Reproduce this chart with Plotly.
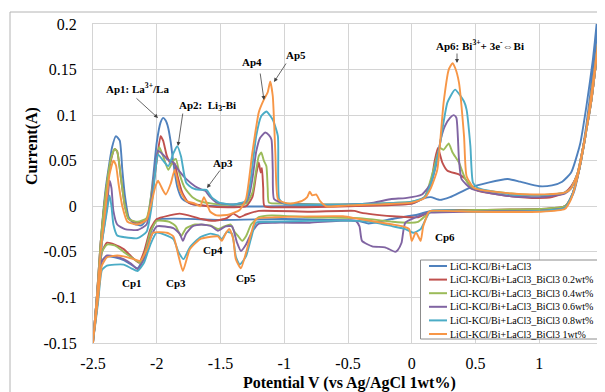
import plotly.graph_objects as go

# ---------------- data ----------------
series_names = [
    "LiCl-KCl/Bi+LaCl3",
    "LiCl-KCl/Bi+LaCl3_BiCl3 0.2wt%",
    "LiCl-KCl/Bi+LaCl3_BiCl3 0.4wt%",
    "LiCl-KCl/Bi+LaCl3_BiCl3 0.6wt%",
    "LiCl-KCl/Bi+LaCl3_BiCl3 0.8wt%",
    "LiCl-KCl/Bi+LaCl3_BiCl3 1wt%",
]
series_colors = ["#4F81BD", "#C0504D", "#9BBB59", "#8064A2", "#4BACC6", "#F79646"]

# (potential V, current A) pairs, anodic sweep then cathodic sweep
cv_base = [
    (-2.50, -0.150), (-2.47, -0.100), (-2.44, -0.040), (-2.40, 0.020), (-2.35, 0.065), (-2.32, 0.077),
    (-2.29, 0.072), (-2.27, 0.040), (-2.25, 0.012), (-2.22, -0.012), (-2.18, -0.019), (-2.12, -0.021),
    (-2.07, -0.012), (-2.03, 0.030), (-2.00, 0.070), (-1.97, 0.092), (-1.95, 0.097), (-1.93, 0.094),
    (-1.91, 0.086), (-1.89, 0.070), (-1.87, 0.048), (-1.84, 0.022), (-1.80, 0.008), (-1.72, 0.002),
    (-1.50, 0.000), (-1.00, 0.000), (-0.50, 0.001), (0.00, 0.003), (0.10, 0.009), (0.15, 0.010),
    (0.22, 0.007), (0.30, 0.010), (0.45, 0.020), (0.60, 0.026), (0.75, 0.030), (0.85, 0.027),
    (1.00, 0.022), (1.10, 0.023), (1.18, 0.027), (1.25, 0.037), (1.32, 0.068), (1.37, 0.110),
    (1.42, 0.160), (1.45, 0.200), (1.47, 0.235),
    (1.48, 0.235), (1.46, 0.200), (1.42, 0.145), (1.37, 0.090), (1.32, 0.045), (1.27, 0.015),
    (1.22, 0.002), (1.15, -0.002), (0.80, -0.004), (0.40, -0.004), (0.15, -0.005), (0.05, -0.009),
    (-0.16, -0.014), (-0.34, -0.019), (-0.42, -0.016), (-1.00, -0.014), (-1.50, -0.015), (-2.00, -0.015),
    (-2.05, -0.030), (-2.10, -0.055), (-2.15, -0.068), (-2.20, -0.064), (-2.26, -0.059), (-2.33, -0.056),
    (-2.39, -0.055), (-2.43, -0.060), (-2.46, -0.100), (-2.50, -0.150),
]

cv_02 = [
    (-2.50, -0.150), (-2.47, -0.100), (-2.44, -0.040), (-2.40, 0.015), (-2.36, 0.050), (-2.33, 0.063),
    (-2.31, 0.060), (-2.28, 0.030), (-2.25, 0.000), (-2.22, -0.014), (-2.15, -0.018), (-2.08, -0.015),
    (-2.04, 0.010), (-2.00, 0.050), (-1.97, 0.077), (-1.95, 0.072), (-1.92, 0.055), (-1.89, 0.047),
    (-1.86, 0.047), (-1.84, 0.035), (-1.80, 0.015), (-1.75, 0.004), (-1.60, 0.000), (-1.40, -0.001),
    (-1.30, 0.000), (-1.25, 0.010), (-1.22, 0.035), (-1.20, 0.048), (-1.185, 0.037), (-1.175, 0.042),
    (-1.165, 0.020), (-1.155, 0.000), (-1.00, -0.001), (-0.50, 0.000), (0.00, 0.003), (0.10, 0.010),
    (0.15, 0.025), (0.18, 0.050), (0.205, 0.064), (0.24, 0.048), (0.28, 0.039), (0.37, 0.035),
    (0.42, 0.030), (0.46, 0.022), (0.52, 0.017), (0.78, 0.011), (0.99, 0.009), (1.10, 0.010),
    (1.20, 0.015), (1.25, 0.022), (1.30, 0.035), (1.34, 0.062), (1.41, 0.117), (1.48, 0.200), (1.50, 0.235),
    (1.505, 0.235), (1.48, 0.200), (1.42, 0.135), (1.36, 0.075), (1.30, 0.032), (1.25, 0.010),
    (1.20, 0.000), (1.00, -0.003), (0.50, -0.004), (0.15, -0.006), (0.05, -0.012), (-0.02, -0.012),
    (-0.15, -0.011), (-0.40, -0.007), (-0.45, -0.005), (-0.80, -0.006), (-1.20, -0.005), (-1.30, -0.009),
    (-1.35, -0.012), (-1.40, -0.008), (-1.45, -0.013), (-1.55, -0.016), (-1.65, -0.014), (-1.75, -0.010),
    (-1.82, -0.008), (-1.90, -0.010), (-2.00, -0.014), (-2.05, -0.025), (-2.10, -0.050), (-2.14, -0.062),
    (-2.20, -0.055), (-2.26, -0.047), (-2.33, -0.042), (-2.39, -0.040), (-2.43, -0.050), (-2.46, -0.090),
    (-2.50, -0.150),
]

cv_04 = [
    (-2.50, -0.150), (-2.47, -0.100), (-2.44, -0.040), (-2.40, 0.015), (-2.36, 0.052), (-2.33, 0.063),
    (-2.31, 0.060), (-2.28, 0.030), (-2.25, 0.000), (-2.22, -0.014), (-2.15, -0.017), (-2.08, -0.013),
    (-2.04, 0.015), (-2.00, 0.052), (-1.98, 0.065), (-1.95, 0.055), (-1.91, 0.040), (-1.87, 0.050),
    (-1.85, 0.052), (-1.82, 0.035), (-1.78, 0.020), (-1.72, 0.010), (-1.65, 0.005), (-1.50, 0.002),
    (-1.30, 0.003), (-1.25, 0.015), (-1.22, 0.040), (-1.20, 0.055), (-1.18, 0.059), (-1.16, 0.050),
    (-1.14, 0.044), (-1.13, 0.020), (-1.12, 0.004), (-1.00, 0.003), (-0.50, 0.002), (0.00, 0.005),
    (0.10, 0.010), (0.17, 0.040), (0.22, 0.064), (0.25, 0.062), (0.29, 0.069), (0.32, 0.059),
    (0.37, 0.048), (0.42, 0.030), (0.48, 0.020), (0.78, 0.014), (1.00, 0.012), (1.20, 0.015),
    (1.25, 0.020), (1.30, 0.036), (1.34, 0.062), (1.41, 0.117), (1.48, 0.200), (1.50, 0.235),
    (1.505, 0.235), (1.48, 0.200), (1.42, 0.135), (1.36, 0.075), (1.30, 0.032), (1.25, 0.010),
    (1.20, 0.000), (1.00, -0.003), (0.50, -0.004), (0.15, -0.006), (0.11, -0.010), (0.05, -0.017),
    (-0.02, -0.018), (-0.15, -0.017), (-0.41, -0.013), (-0.80, -0.012), (-1.10, -0.010), (-1.20, -0.012),
    (-1.26, -0.020), (-1.30, -0.033), (-1.33, -0.038), (-1.36, -0.033), (-1.39, -0.028), (-1.42, -0.020),
    (-1.47, -0.022), (-1.52, -0.025), (-1.58, -0.021), (-1.70, -0.020), (-1.77, -0.024), (-1.81, -0.033),
    (-1.85, -0.022), (-1.90, -0.017), (-2.00, -0.016), (-2.05, -0.028), (-2.09, -0.050), (-2.13, -0.062),
    (-2.18, -0.058), (-2.26, -0.050), (-2.33, -0.043), (-2.39, -0.042), (-2.43, -0.050), (-2.46, -0.090),
    (-2.50, -0.150),
]

cv_06 = [
    (-2.50, -0.150), (-2.47, -0.100), (-2.43, -0.040), (-2.39, 0.000), (-2.37, 0.028), (-2.355, 0.020),
    (-2.34, -0.005), (-2.31, -0.020), (-2.25, -0.025), (-2.15, -0.026), (-2.08, -0.020), (-2.04, 0.010),
    (-2.01, 0.045), (-1.99, 0.061), (-1.96, 0.058), (-1.92, 0.052), (-1.87, 0.048), (-1.82, 0.038),
    (-1.77, 0.030), (-1.70, 0.022), (-1.66, 0.019), (-1.62, 0.017), (-1.58, 0.010), (-1.53, 0.004),
    (-1.40, 0.002), (-1.30, 0.005), (-1.27, 0.015), (-1.25, 0.030), (-1.22, 0.060), (-1.19, 0.075),
    (-1.15, 0.081), (-1.12, 0.078), (-1.10, 0.073), (-1.09, 0.040), (-1.08, 0.008), (-1.00, 0.003),
    (-0.50, 0.002), (-0.30, 0.004), (-0.16, 0.008), (-0.05, 0.009), (0.08, 0.013), (0.15, 0.025),
    (0.19, 0.045), (0.23, 0.075), (0.26, 0.088), (0.30, 0.097), (0.33, 0.100), (0.35, 0.097),
    (0.37, 0.052), (0.39, 0.030), (0.47, 0.019), (0.78, 0.011), (1.00, 0.010), (1.20, 0.014),
    (1.25, 0.020), (1.30, 0.036), (1.34, 0.062), (1.41, 0.117), (1.48, 0.200), (1.50, 0.235),
    (1.505, 0.235), (1.48, 0.200), (1.42, 0.135), (1.36, 0.075), (1.30, 0.032), (1.25, 0.010),
    (1.20, -0.002), (1.00, -0.005), (0.50, -0.006), (0.15, -0.007), (0.11, -0.008), (-0.05, -0.018),
    (-0.08, -0.040), (-0.11, -0.048), (-0.13, -0.050), (-0.21, -0.045), (-0.31, -0.044), (-0.39, -0.038),
    (-0.41, -0.022), (-0.44, -0.016), (-0.80, -0.018), (-1.07, -0.018), (-1.20, -0.019), (-1.26, -0.030),
    (-1.30, -0.042), (-1.34, -0.049), (-1.37, -0.040), (-1.41, -0.022), (-1.46, -0.022), (-1.52, -0.027),
    (-1.57, -0.022), (-1.65, -0.020), (-1.72, -0.022), (-1.77, -0.030), (-1.795, -0.038), (-1.82, -0.030),
    (-1.87, -0.024), (-2.00, -0.022), (-2.05, -0.035), (-2.10, -0.058), (-2.15, -0.069), (-2.20, -0.063),
    (-2.26, -0.058), (-2.33, -0.055), (-2.39, -0.054), (-2.43, -0.060), (-2.46, -0.100), (-2.50, -0.150),
]

cv_08 = [
    (-2.50, -0.150), (-2.47, -0.100), (-2.43, -0.040), (-2.39, -0.005), (-2.37, 0.012), (-2.355, 0.000),
    (-2.34, -0.020), (-2.31, -0.032), (-2.25, -0.034), (-2.15, -0.035), (-2.08, -0.028), (-2.04, 0.000),
    (-2.01, 0.040), (-1.99, 0.057), (-1.95, 0.050), (-1.91, 0.044), (-1.87, 0.058), (-1.84, 0.066),
    (-1.81, 0.055), (-1.77, 0.026), (-1.72, 0.020), (-1.66, 0.018), (-1.61, 0.018), (-1.57, 0.010),
    (-1.51, 0.004), (-1.40, 0.002), (-1.30, 0.006), (-1.27, 0.022), (-1.22, 0.077), (-1.18, 0.099),
    (-1.14, 0.104), (-1.09, 0.095), (-1.05, 0.077), (-1.04, 0.008), (-1.00, 0.003), (-0.50, 0.002),
    (0.00, 0.005), (0.10, 0.010), (0.15, 0.025), (0.21, 0.059), (0.28, 0.114), (0.34, 0.128),
    (0.41, 0.115), (0.43, 0.106), (0.46, 0.066), (0.48, 0.026), (0.52, 0.020), (0.78, 0.013),
    (1.00, 0.012), (1.20, 0.015), (1.25, 0.020), (1.30, 0.036), (1.34, 0.062), (1.41, 0.117),
    (1.48, 0.200), (1.50, 0.235),
    (1.505, 0.235), (1.48, 0.200), (1.42, 0.135), (1.36, 0.075), (1.30, 0.032), (1.25, 0.010),
    (1.20, -0.002), (1.00, -0.005), (0.50, -0.006), (0.15, -0.005), (0.11, -0.014), (0.07, -0.025),
    (0.015, -0.029), (-0.05, -0.025), (-0.15, -0.022), (-0.28, -0.018), (-0.41, -0.016), (-0.80, -0.016),
    (-1.10, -0.017), (-1.22, -0.018), (-1.26, -0.035), (-1.30, -0.055), (-1.35, -0.064), (-1.38, -0.055),
    (-1.41, -0.030), (-1.45, -0.028), (-1.49, -0.036), (-1.52, -0.032), (-1.58, -0.030), (-1.66, -0.034),
    (-1.74, -0.045), (-1.79, -0.058), (-1.83, -0.050), (-1.87, -0.036), (-2.00, -0.029), (-2.05, -0.042),
    (-2.10, -0.062), (-2.15, -0.071), (-2.20, -0.068), (-2.26, -0.064), (-2.33, -0.064), (-2.39, -0.065),
    (-2.43, -0.070), (-2.46, -0.105), (-2.50, -0.150),
]

cv_10 = [
    (-2.50, -0.150), (-2.47, -0.100), (-2.44, -0.050), (-2.40, 0.000), (-2.37, 0.035), (-2.34, 0.050),
    (-2.32, 0.045), (-2.30, 0.025), (-2.27, 0.000), (-2.23, -0.017), (-2.15, -0.020), (-2.08, -0.015),
    (-2.04, 0.005), (-2.01, 0.022), (-1.99, 0.028), (-1.96, 0.020), (-1.93, 0.013), (-1.89, 0.025),
    (-1.86, 0.040), (-1.84, 0.030), (-1.82, 0.018), (-1.77, 0.006), (-1.70, 0.003), (-1.66, 0.000),
    (-1.63, 0.010), (-1.61, 0.004), (-1.58, -0.006), (-1.53, -0.010), (-1.43, -0.009), (-1.35, -0.004),
    (-1.30, 0.008), (-1.25, 0.059), (-1.20, 0.103), (-1.16, 0.117), (-1.13, 0.125), (-1.11, 0.137),
    (-1.09, 0.121), (-1.07, 0.059), (-1.05, 0.008), (-1.00, 0.004), (-0.94, 0.003), (-0.86, 0.006),
    (-0.82, 0.010), (-0.80, 0.016), (-0.78, 0.012), (-0.75, 0.013), (-0.72, 0.006), (-0.67, 0.000),
    (-0.50, 0.001), (0.00, 0.004), (0.10, 0.009), (0.15, 0.020), (0.20, 0.040), (0.25, 0.114),
    (0.29, 0.150), (0.32, 0.157), (0.34, 0.152), (0.37, 0.136), (0.41, 0.077), (0.43, 0.033),
    (0.49, 0.020), (0.78, 0.014), (1.00, 0.013), (1.20, 0.015), (1.25, 0.020), (1.30, 0.036),
    (1.34, 0.062), (1.41, 0.117), (1.48, 0.200), (1.50, 0.235),
    (1.505, 0.235), (1.48, 0.200), (1.42, 0.135), (1.36, 0.075), (1.30, 0.032), (1.25, 0.008),
    (1.20, -0.003), (1.00, -0.006), (0.50, -0.006), (0.15, -0.005), (0.13, -0.007), (0.09, -0.022),
    (0.07, -0.038), (0.04, -0.030), (0.03, -0.029), (0.00, -0.038), (-0.02, -0.025), (-0.07, -0.022),
    (-0.15, -0.020), (-0.41, -0.014), (-0.54, -0.011), (-1.07, -0.012), (-1.22, -0.014), (-1.26, -0.030),
    (-1.30, -0.051), (-1.34, -0.068), (-1.38, -0.058), (-1.40, -0.036), (-1.43, -0.025), (-1.46, -0.030),
    (-1.49, -0.038), (-1.52, -0.033), (-1.60, -0.034), (-1.66, -0.036), (-1.74, -0.047), (-1.795, -0.071),
    (-1.83, -0.054), (-1.87, -0.033), (-1.92, -0.029), (-2.03, -0.029), (-2.07, -0.045), (-2.13, -0.060),
    (-2.18, -0.058), (-2.26, -0.055), (-2.31, -0.054), (-2.39, -0.056), (-2.43, -0.065), (-2.46, -0.100),
    (-2.50, -0.150),
]

series_data = [cv_base, cv_02, cv_04, cv_06, cv_08, cv_10]

x_tick_vals = [-2.5, -2, -1.5, -1, -0.5, 0, 0.5, 1, 1.5]
x_tick_text = ["-2.5", "-2", "-1.5", "-1", "-0.5", "0", "0.5", "1", "1.5"]
y_tick_vals = [-0.15, -0.1, -0.05, 0, 0.05, 0.1, 0.15, 0.2]
y_tick_text = ["-0.15", "-0.1", "-0.05", "0", "0.05", "0.1", "0.15", "0.2"]

x_title = "Potential V (vs Ag/AgCl 1wt%)"
y_title = "Current(A)"

# ---------------- layout geometry (pixels in the 605x392 page) ----------------
OFF = 8                      # the page body margin that shifts the figure
FW, FH = 605 - OFF, 392 - OFF
L, R, T, B = 93, 603, 24, 343   # plot area in page pixels
SERIF = "Liberation Serif"


def px(x):
    return (x - L) / (R - L)


def py(y):
    return (B - y) / (B - T)


fig = go.Figure()
for name, color, pts in zip(series_names, series_colors, series_data):
    fig.add_trace(go.Scatter(
        x=[p[0] for p in pts], y=[p[1] for p in pts], name=name, mode="lines",
        line=dict(color=color, width=1.9, shape="spline", smoothing=0.5),
        showlegend=False, hoverinfo="skip",
    ))

annotations = []
shapes = []

# peak labels with arrows: (text, text_px, arrow_tail_px, arrow_head_px)
peak_labels = [
    ("Ap1: La<sup>3+</sup>/La", (137, 88), (135, 97), (158, 118)),
    ("Ap2:  Li<sub>3</sub>-Bi", (207, 106), (183, 112), (178, 146)),
    ("Ap3", (223, 163), (221, 169), (207, 188)),
    ("Ap4", (252, 62), (260, 72), (264, 100)),
    ("Ap5", (296, 55), (287, 62), (274, 82)),
    ("Ap6: Bi<sup>3+</sup>+ 3e<sup>-</sup>\u21d4Bi", (480, 45), (457, 52), (457, 63)),
]
for text, (tx, ty), (ax_, ay_), (hx, hy) in peak_labels:
    annotations.append(dict(text="<b>%s</b>" % text, x=px(tx), y=py(ty), xref="paper", yref="paper",
                            showarrow=False, xanchor="center", yanchor="middle",
                            font=dict(family=SERIF, size=11, color="#000")))
    annotations.append(dict(text="", x=px(hx), y=py(hy), xref="paper", yref="paper",
                            ax=ax_ - hx, ay=ay_ - hy, axref="pixel", ayref="pixel",
                            showarrow=True, arrowhead=2, arrowsize=1, arrowwidth=0.8,
                            arrowcolor="#404040"))

cp_labels = [("Cp1", (132, 283)), ("Cp3", (176, 283)), ("Cp4", (213, 250)),
             ("Cp5", (246, 278)), ("Cp6", (445, 237))]
for text, (tx, ty) in cp_labels:
    annotations.append(dict(text="<b>%s</b>" % text, x=px(tx), y=py(ty), xref="paper", yref="paper",
                            showarrow=False, xanchor="center", yanchor="middle",
                            font=dict(family=SERIF, size=11, color="#000")))

# axis titles
annotations.append(dict(text="<b>%s</b>" % x_title, x=px(349), y=py(383), xref="paper", yref="paper",
                        showarrow=False, xanchor="center", yanchor="middle",
                        font=dict(family=SERIF, size=16, color="#000")))
annotations.append(dict(text="<b>%s</b>" % y_title, x=px(32), y=py(146), xref="paper", yref="paper",
                        showarrow=False, xanchor="center", yanchor="middle", textangle=-90,
                        font=dict(family=SERIF, size=16, color="#000")))

# legend (drawn manually to match the compact spreadsheet legend)
LG_L, LG_T, LG_R, LG_B = 420.5, 260, 600, 339
shapes.append(dict(type="rect", xref="paper", yref="paper", x0=px(LG_L), x1=px(LG_R),
                   y0=py(LG_B), y1=py(LG_T), line=dict(color="#8c8c8c", width=1), fillcolor="white",
                   layer="above"))
for k, (name, color) in enumerate(zip(series_names, series_colors)):
    yy = 266 + k * 13.6
    shapes.append(dict(type="line", xref="paper", yref="paper", x0=px(429), x1=px(447),
                       y0=py(yy), y1=py(yy), line=dict(color=color, width=2), layer="above"))
    annotations.append(dict(text=name, x=px(447.5), y=py(yy), xref="paper", yref="paper",
                            showarrow=False, xanchor="left", yanchor="middle",
                            font=dict(family=SERIF, size=10, color="#000")))

# outer chart-area border
shapes.append(dict(type="rect", xref="paper", yref="paper", x0=px(10), x1=px(700),
                   y0=py(480), y1=py(12), line=dict(color="#b4b4b4", width=1), layer="below"))

grid = "#d4d4d4"
fig.update_layout(
    width=FW, height=FH,
    margin=dict(l=L - OFF, r=FW - (R - OFF), t=T - OFF, b=FH - (B - OFF), pad=0),
    paper_bgcolor="white", plot_bgcolor="white",
    showlegend=False,
    annotations=annotations, shapes=shapes,
    xaxis=dict(range=[-2.5, 1.5], tickvals=x_tick_vals, ticktext=x_tick_text,
               showgrid=True, gridcolor=grid, gridwidth=1, zeroline=False,
               showline=True, linecolor=grid, mirror=True, ticks="", ticklabelstandoff=6,
               tickfont=dict(family=SERIF, size=16, color="#000")),
    yaxis=dict(range=[-0.15, 0.2], tickvals=y_tick_vals, ticktext=y_tick_text,
               showgrid=True, gridcolor=grid, gridwidth=1, zeroline=False,
               showline=True, linecolor=grid, mirror=True, ticks="", ticklabelstandoff=12,
               tickfont=dict(family=SERIF, size=16, color="#000")),
)

fig.write_html("out.html")
